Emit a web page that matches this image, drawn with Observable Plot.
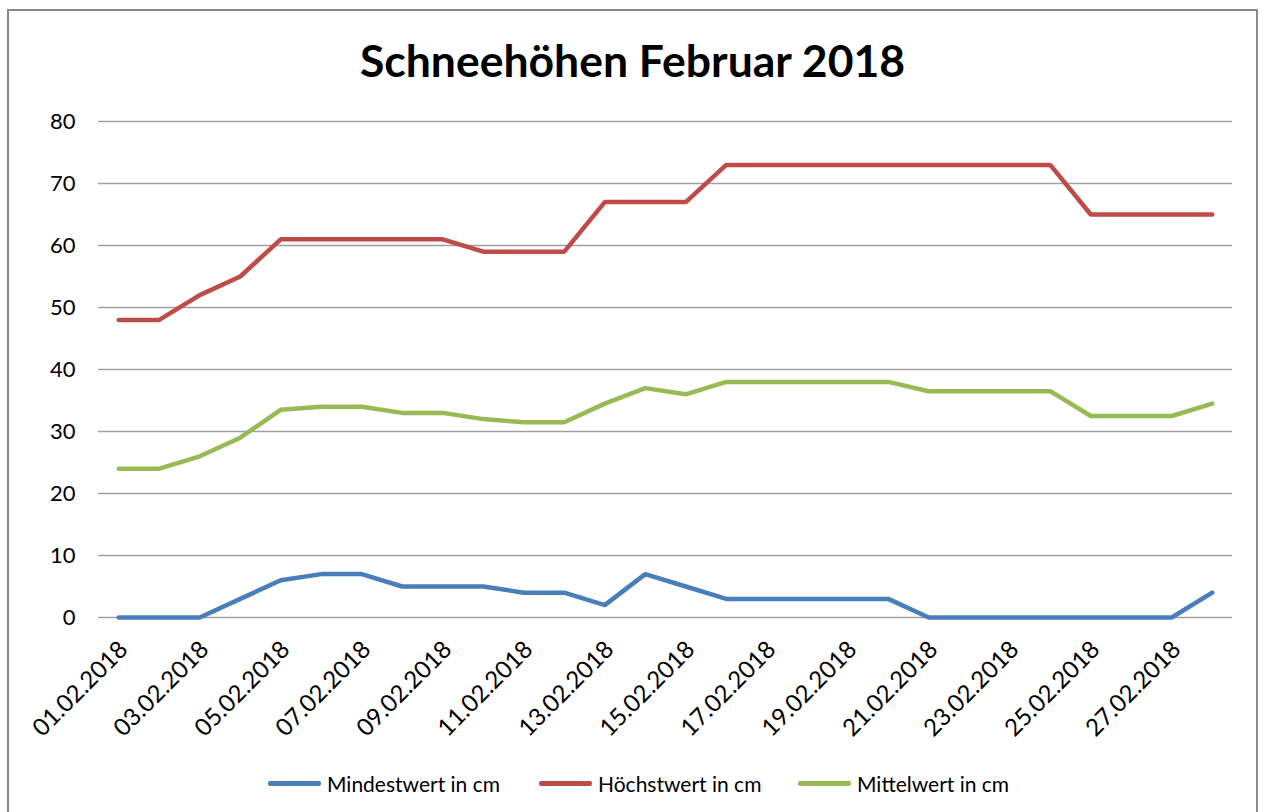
<!DOCTYPE html>
<html>
<head>
<meta charset="utf-8">
<script src="https://cdn.jsdelivr.net/npm/d3@7"></script>
<script src="https://cdn.jsdelivr.net/npm/@observablehq/plot@0.6"></script>
<style>
  html, body { margin: 0; padding: 0; background: #fff; }
  body { width: 1265px; height: 812px; position: relative; overflow: hidden; font-family: Lato, "Open Sans", sans-serif; }
  #frame { position: absolute; left: 7px; top: 9px; width: 1251px; height: 830px; border: 2px solid #8a8a8a; box-sizing: border-box; }
  #title { position: absolute; left: 0; width: 1265px; top: 33px; text-align: center; font-size: 44.5px; font-weight: bold; color: #000; }
  #chart { position: absolute; left: 0; top: 100px; }
  #legend { position: absolute; top: 771px; left: 0; width: 1265px; height: 26px; }
  .item { position: absolute; top: 0; display: flex; align-items: center; font-size: 21px; color: #000; }
  .sw { width: 53px; height: 5px; margin-right: 6px; border-radius: 2px; }
</style>
</head>
<body>
<div id="frame"></div>
<div id="title">Schneehöhen Februar 2018</div>
<div id="chart"></div>
<div id="legend"></div>
<script>
const dates = ["01.02.2018","02.02.2018","03.02.2018","04.02.2018","05.02.2018","06.02.2018","07.02.2018",
  "08.02.2018","09.02.2018","10.02.2018","11.02.2018","12.02.2018","13.02.2018","14.02.2018",
  "15.02.2018","16.02.2018","17.02.2018","18.02.2018","19.02.2018","20.02.2018","21.02.2018",
  "22.02.2018","23.02.2018","24.02.2018","25.02.2018","26.02.2018","27.02.2018","28.02.2018"];
const mindest = [0,0,0,3,6,7,7,5,5,5,4,4,2,7,5,3,3,3,3,3,0,0,0,0,0,0,0,4];
const hoechst = [48,48,52,55,61,61,61,61,61,59,59,59,67,67,67,73,73,73,73,73,73,73,73,73,65,65,65,65];
const mittel = [24,24,26,29,33.5,34,34,33,33,32,31.5,31.5,34.5,37,36,38,38,38,38,38,36.5,36.5,36.5,36.5,32.5,32.5,32.5,34.5];
const seriesNames = ["Mindestwert in cm","Höchstwert in cm","Mittelwert in cm"];
const seriesColors = ["#4a7ebb","#be4b48","#98b954"];
const yTicks = [0,10,20,30,40,50,60,70,80];
const xTickLabels = dates.filter((d,i) => i % 2 === 0);

const rows = [];
[mindest, hoechst, mittel].forEach((arr, s) => {
  arr.forEach((v, i) => rows.push({date: dates[i], value: v, series: seriesNames[s]}));
});

const chart = Plot.plot({
  width: 1265,
  height: 660,
  marginLeft: 98,
  marginRight: 33,
  marginTop: 21,
  marginBottom: 143,
  style: {fontFamily: "Lato, 'Open Sans', sans-serif", fontSize: "22px", color: "#000", background: "transparent"},
  x: {type: "point", domain: dates, padding: 0.5, round: false, label: null},
  y: {domain: [0, 80], label: null},
  color: {domain: seriesNames, range: seriesColors},
  marks: [
    Plot.ruleY(yTicks, {stroke: "#a0a0a0", strokeWidth: 1.3, strokeOpacity: 1}),
    Plot.axisY({ticks: yTicks, tickSize: 0, tickPadding: 23, label: null, fontSize: 22}),
    Plot.axisX({ticks: xTickLabels, tickSize: 0, tickPadding: 28, dx: 5, tickRotate: -45, label: null, fontSize: 24}),
    Plot.line(rows, {x: "date", y: "value", z: "series", stroke: "series", strokeWidth: 4.5, strokeLinejoin: "miter", strokeLinecap: "round"})
  ]
});
document.getElementById("chart").appendChild(chart);

const legend = document.getElementById("legend");
const lefts = [268, 539, 798];
seriesNames.forEach((n, i) => {
  const it = document.createElement("div");
  it.className = "item";
  it.style.left = lefts[i] + "px";
  const sw = document.createElement("div");
  sw.className = "sw";
  sw.style.background = seriesColors[i];
  const t = document.createElement("span");
  t.textContent = n;
  it.appendChild(sw); it.appendChild(t);
  legend.appendChild(it);
});
</script>
</body>
</html>
